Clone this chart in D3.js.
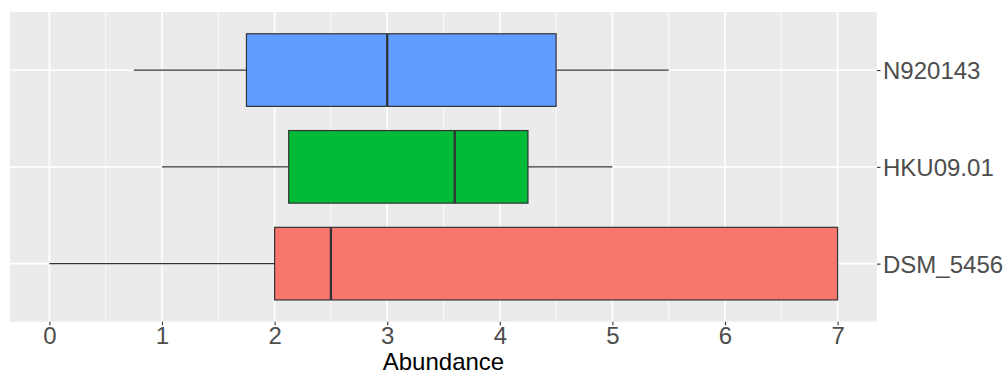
<!DOCTYPE html>
<html>
<head>
<meta charset="utf-8">
<script src="https://cdn.jsdelivr.net/npm/d3@7"></script>
<style>
    body { margin: 0; background: #ffffff; }
    svg { display: block; }
</style>
</head>
<body>
<div id="chart"></div>
<script>
// data
var categories   = ["DSM_5456", "HKU09.01", "N920143"];
var whiskerLow   = [0, 1, 0.75];
var lowerQuart   = [2, 2.125, 1.75];
var medians      = [2.5, 3.6, 3];
var upperQuart   = [7, 4.25, 4.5];
var whiskerHigh  = [7, 5, 5.5];
var boxColors    = ["#F8766D", "#00BA38", "#619CFF"];
var xTicks       = [0, 1, 2, 3, 4, 5, 6, 7];
var xMinorTicks  = [-0.5, 0.5, 1.5, 2.5, 3.5, 4.5, 5.5, 6.5, 7.5];
var xTitle       = "Abundance";

var width = 1008, height = 374;
var panel = {left: 10, right: 877, top: 12, bottom: 321.7};
var fontFamily = "'Liberation Sans', Arial, sans-serif";

var svg = d3.select("#chart")
    .append("svg")
        .attr("width", width)
        .attr("height", height);

var x = d3.scaleLinear()
    .domain([-0.35, 7.35])
    .range([panel.left, panel.right]);

var y = d3.scalePoint()
    .domain(categories)
    .range([panel.bottom, panel.top])
    .padding(0.6);

var boxH = y.step() * 0.75;

// panel background
svg.append("rect")
    .attr("x", panel.left)
    .attr("y", panel.top)
    .attr("width", panel.right - panel.left)
    .attr("height", panel.bottom - panel.top)
    .attr("fill", "#EBEBEB");

var grid = svg.append("g").attr("class", "grid");

// minor grid
grid.selectAll("line.minor")
    .data(xMinorTicks.filter(function(d){ return x(d) > panel.left && x(d) < panel.right; }))
    .enter()
    .append("line")
        .classed("minor", true)
        .attr("x1", function(d){ return x(d); })
        .attr("x2", function(d){ return x(d); })
        .attr("y1", panel.top)
        .attr("y2", panel.bottom)
        .attr("stroke", "#ffffff")
        .attr("stroke-width", 0.8);

// major grid, vertical
grid.selectAll("line.majorx")
    .data(xTicks)
    .enter()
    .append("line")
        .classed("majorx", true)
        .attr("x1", function(d){ return x(d); })
        .attr("x2", function(d){ return x(d); })
        .attr("y1", panel.top)
        .attr("y2", panel.bottom)
        .attr("stroke", "#ffffff")
        .attr("stroke-width", 1.6);

// major grid, horizontal
grid.selectAll("line.majory")
    .data(categories)
    .enter()
    .append("line")
        .classed("majory", true)
        .attr("x1", panel.left)
        .attr("x2", panel.right)
        .attr("y1", function(d){ return y(d); })
        .attr("y2", function(d){ return y(d); })
        .attr("stroke", "#ffffff")
        .attr("stroke-width", 1.6);

// boxes
var boxes = svg.selectAll("g.box")
    .data(categories)
    .enter()
    .append("g")
        .classed("box", true);

boxes.append("line")
    .attr("x1", function(d,i){ return x(whiskerLow[i]); })
    .attr("x2", function(d,i){ return x(lowerQuart[i]); })
    .attr("y1", function(d){ return y(d); })
    .attr("y2", function(d){ return y(d); })
    .attr("stroke", "#333333")
    .attr("stroke-width", 1.2);

boxes.append("line")
    .attr("x1", function(d,i){ return x(upperQuart[i]); })
    .attr("x2", function(d,i){ return x(whiskerHigh[i]); })
    .attr("y1", function(d){ return y(d); })
    .attr("y2", function(d){ return y(d); })
    .attr("stroke", "#333333")
    .attr("stroke-width", 1.2);

boxes.append("rect")
    .attr("x", function(d,i){ return x(lowerQuart[i]); })
    .attr("y", function(d){ return y(d) - boxH / 2; })
    .attr("width", function(d,i){ return x(upperQuart[i]) - x(lowerQuart[i]); })
    .attr("height", boxH)
    .attr("fill", function(d,i){ return boxColors[i]; })
    .attr("stroke", "#333333")
    .attr("stroke-width", 1.2);

boxes.append("line")
    .attr("x1", function(d,i){ return x(medians[i]); })
    .attr("x2", function(d,i){ return x(medians[i]); })
    .attr("y1", function(d){ return y(d) - boxH / 2; })
    .attr("y2", function(d){ return y(d) + boxH / 2; })
    .attr("stroke", "#333333")
    .attr("stroke-width", 2.3);

// x axis
var xAxis = svg.append("g")
    .attr("transform", "translate(0," + panel.bottom + ")")
    .call(d3.axisBottom(x).tickValues(xTicks).tickFormat(d3.format("d")).tickSize(3.5).tickPadding(2));

// y axis on the right
var yAxis = svg.append("g")
    .attr("transform", "translate(" + panel.right + ",0)")
    .call(d3.axisRight(y).tickSize(3.5).tickPadding(2.5));

[xAxis, yAxis].forEach(function(ax){
    ax.select(".domain").remove();
    ax.selectAll(".tick line")
        .attr("stroke", "#333333")
        .attr("stroke-width", 1.1);
    ax.selectAll(".tick text")
        .attr("fill", "#4D4D4D")
        .attr("font-family", fontFamily)
        .attr("font-size", "24px");
});

yAxis.selectAll(".tick text").attr("dy", "0.37em");

// axis title
svg.append("text")
    .attr("x", (panel.left + panel.right) / 2)
    .attr("y", 370)
    .attr("text-anchor", "middle")
    .attr("font-family", fontFamily)
    .attr("font-size", "24px")
    .attr("fill", "#000000")
    .text(xTitle);
</script>
</body>
</html>
